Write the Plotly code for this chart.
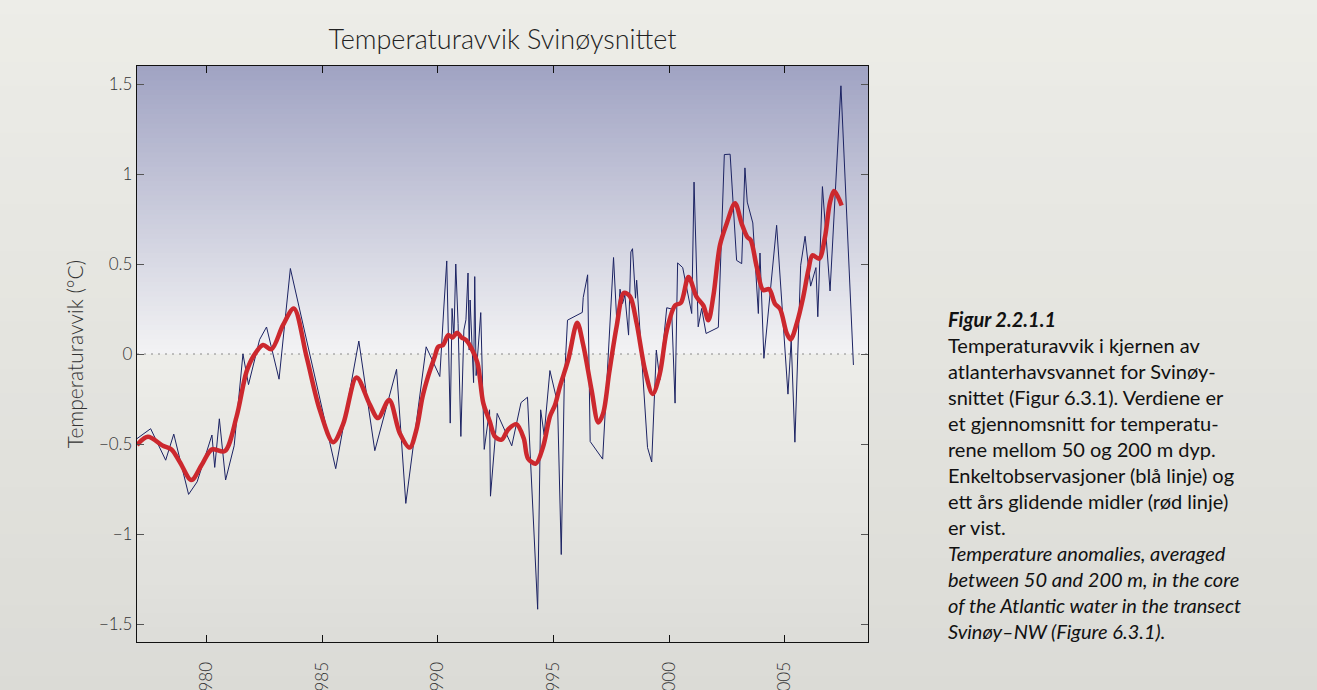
import plotly.graph_objects as go

# ---------------- data ----------------
blue_year = [1977.00, 1977.59, 1978.24, 1978.59, 1979.23, 1979.60, 1980.24, 1980.36, 1980.56, 1980.83,
             1981.20, 1981.58, 1981.82, 1982.30, 1982.60, 1983.14, 1983.63, 1985.59, 1986.59, 1987.28,
             1988.22, 1988.62, 1989.50, 1990.09, 1990.26, 1990.39, 1990.54, 1990.62, 1990.70, 1990.78,
             1990.88, 1991.00, 1991.13, 1991.22, 1991.31, 1991.36, 1991.40, 1991.55, 1991.60, 1991.66,
             1991.86, 1992.01, 1992.24, 1992.28, 1992.57, 1992.90, 1993.20, 1993.60, 1993.88, 1994.32,
             1994.45, 1994.60, 1994.85, 1995.18, 1995.34, 1995.47, 1995.61, 1996.25, 1996.29, 1996.48,
             1996.59, 1997.13, 1997.60, 1997.76, 1997.88, 1997.99, 1998.09, 1998.25, 1998.35, 1998.42,
             1998.55, 1998.60, 1999.07, 1999.25, 1999.45, 1999.60, 1999.90, 2000.11, 2000.26, 2000.37,
             2000.59, 2000.98, 2001.08, 2001.26, 2001.41, 2001.60, 2002.13, 2002.39, 2002.64, 2002.92,
             2003.14, 2003.28, 2003.38, 2003.62, 2003.86, 2003.93, 2004.10, 2004.65, 2005.14, 2005.28,
             2005.44, 2005.69, 2005.88, 2006.12, 2006.35, 2006.43, 2006.63, 2006.96, 2007.43, 2007.97]
blue_temp = [-0.47, -0.415, -0.59, -0.445, -0.78, -0.71, -0.45, -0.63, -0.36, -0.70,
             -0.51, 0.00, -0.17, 0.08, 0.15, -0.14, 0.475, -0.637, 0.072, -0.537,
             -0.085, -0.83, 0.04, -0.125, 0.25, 0.517, -0.384, 0.253, 0.096, 0.50,
             0.17, -0.458, 0.133, 0.19, 0.45, 0.022, 0.30, -0.159, 0.43, -0.12,
             0.23, -0.53, -0.31, -0.79, -0.33, -0.42, -0.51, -0.27, -0.24, -1.418,
             -0.31, -0.449, -0.092, -0.273, -1.114, -0.163, 0.188, 0.231, 0.314, 0.44,
             -0.486, -0.584, 0.536, 0.13, 0.36, 0.28, 0.327, 0.105, 0.567, 0.585,
             0.31, 0.41, -0.52, -0.60, 0.022, -0.144, 0.257, 0.25, -0.273, 0.506,
             0.48, 0.225, 0.955, 0.151, 0.253, 0.114, 0.148, 1.108, 1.11, 0.52,
             0.502, 1.034, 0.844, 0.728, 0.225, 0.561, -0.024, 0.715, -0.223, 0.078,
             -0.49, 0.493, 0.654, 0.377, 0.48, 0.207, 0.93, 0.35, 1.49, -0.061]

red_year = [1977.00, 1977.47, 1978.12, 1978.49, 1978.85, 1979.35, 1979.78, 1980.24, 1980.79, 1981.30,
            1981.73, 1982.02, 1982.45, 1982.81, 1983.31, 1983.78, 1984.33, 1984.90, 1985.48, 1985.91,
            1986.49, 1987.06, 1987.42, 1987.90, 1988.36, 1988.79, 1989.08, 1989.34, 1989.58, 1989.87,
            1990.02, 1990.23, 1990.45, 1990.64, 1990.84, 1991.03, 1991.22, 1991.46, 1991.72, 1991.97,
            1992.25, 1992.47, 1992.76, 1993.04, 1993.40, 1993.72, 1993.90, 1994.24, 1994.56, 1994.85,
            1995.07, 1995.28, 1995.64, 1996.03, 1996.29, 1996.65, 1996.94, 1997.15, 1997.41, 1997.73,
            1998.05, 1998.31, 1998.60, 1998.96, 1999.29, 1999.60, 1999.90, 2000.26, 2000.51, 2000.84,
            2001.19, 2001.48, 2001.70, 2001.92, 2002.20, 2002.49, 2002.85, 2003.14, 2003.38, 2003.53,
            2003.79, 2004.07, 2004.33, 2004.57, 2004.80, 2005.09, 2005.26, 2005.52, 2005.80, 2006.02,
            2006.20, 2006.49, 2006.74, 2006.96, 2007.13, 2007.31, 2007.46]
red_temp = [-0.505, -0.46, -0.51, -0.53, -0.60, -0.70, -0.62, -0.53, -0.54, -0.35,
            -0.10, -0.015, 0.05, 0.026, 0.16, 0.253, -0.015, -0.31, -0.49, -0.39,
            -0.13, -0.28, -0.356, -0.255, -0.44, -0.52, -0.42, -0.24, -0.126, -0.015,
            0.04, 0.05, 0.105, 0.092, 0.118, 0.092, 0.078, 0.031, -0.05, -0.273,
            -0.375, -0.458, -0.476, -0.42, -0.39, -0.47, -0.58, -0.609, -0.513, -0.347,
            -0.283, -0.181, -0.033, 0.173, 0.05, -0.20, -0.38, -0.33, -0.107, 0.151,
            0.34, 0.32, 0.17, -0.089, -0.222, -0.11, 0.13, 0.27, 0.284, 0.428,
            0.317, 0.27, 0.188, 0.327, 0.604, 0.724, 0.838, 0.724, 0.65, 0.632,
            0.484, 0.355, 0.36, 0.281, 0.25, 0.114, 0.081, 0.17, 0.317, 0.465,
            0.548, 0.53, 0.65, 0.844, 0.905, 0.871, 0.825]

x_tick_vals = [1980, 1985, 1990, 1995, 2000, 2005]
x_tick_text = ["1980", "1985", "1990", "1995", "2000", "2005"]
y_tick_vals = [1.5, 1, 0.5, 0, -0.5, -1, -1.5]
y_tick_text = ["1.5", "1", "0.5", "0", "\u22120.5", "\u22121", "\u22121.5"]

title_text = "Temperaturavvik Svinøysnittet"
y_title = "Temperaturavvik (°C)"
caption_lines = [
    "<b><i>Figur 2.2.1.1</i></b>",
    "Temperaturavvik i kjernen av",
    "atlanterhavsvannet for Svinøy-",
    "snittet (Figur 6.3.1). Verdiene er",
    "et gjennomsnitt for temperatu-",
    "rene mellom 50 og 200 m dyp.",
    "Enkeltobservasjoner (blå linje) og",
    "ett års glidende midler (rød linje)",
    "er vist.",
    "<i>Temperature anomalies, averaged</i>",
    "<i>between 50 and 200 m, in the core</i>",
    "<i>of the Atlantic water in the transect</i>",
    "<i>Svinøy–NW (Figure 6.3.1).</i>",
]

FONT = "Lato, 'Open Sans', sans-serif"

W, H = 1317, 690
L, R, T, B = 137, 449, 66, 48
PW, PH = W - L - R, H - T - B

# ---------------- figure ----------------
fig = go.Figure()

fig.add_trace(go.Scatter(x=blue_year, y=blue_temp, mode="lines",
                         line=dict(color="#1c2363", width=1), hoverinfo="skip"))
fig.add_trace(go.Scatter(x=red_year, y=red_temp, mode="lines",
                         line=dict(color="#cc282e", width=4.5, shape="spline", smoothing=0.9),
                         hoverinfo="skip"))

shapes = []


def lerp(c1, c2, t):
    return tuple(round(a + (b - a) * t) for a, b in zip(c1, c2))


# page background gradient (paper coords, beyond the plot), overlapping bands
pg_top, pg_bot = (237, 237, 232), (219, 219, 214)
n_pg = 30
y_lo, y_hi = -0.1, 1.13
step = (y_hi - y_lo) / n_pg
for i in range(n_pg):
    a = y_lo + step * i
    c = lerp(pg_bot, pg_top, (i + 0.5) / n_pg)
    shapes.append(dict(type="rect", xref="paper", yref="paper", x0=-0.2, x1=1.7,
                       y0=a, y1=y_hi if i == n_pg - 1 else a + step * 1.6,
                       fillcolor="rgb(%d,%d,%d)" % c, line=dict(width=0), layer="below"))

# plot-area gradient (overlapping bands so no seams)
top_c, zero_hi = (160, 163, 195), (243, 243, 244)
zero_lo, bot_c = (237, 237, 233), (221, 221, 217)
n_dn, n_up = 20, 60
for i in range(n_dn):
    a = 0.5 * i / n_dn
    b = 0.5 * (i + 1) / n_dn
    c = lerp(bot_c, zero_lo, (i + 0.5) / n_dn)
    shapes.append(dict(type="rect", xref="x domain", yref="y domain", x0=0, x1=1,
                       y0=a, y1=min(b + 0.01, 0.5),
                       fillcolor="rgb(%d,%d,%d)" % c, line=dict(width=0), layer="below"))
for i in range(n_up):
    a = 0.5 + 0.5 * i / n_up
    b = 0.5 + 0.5 * (i + 1) / n_up
    c = lerp(zero_hi, top_c, (i + 0.5) / n_up)
    shapes.append(dict(type="rect", xref="x domain", yref="y domain", x0=0, x1=1,
                       y0=a, y1=min(b + 0.01, 1.0),
                       fillcolor="rgb(%d,%d,%d)" % c, line=dict(width=0), layer="below"))

# dotted zero line
shapes.append(dict(type="line", xref="x domain", yref="y", x0=0, x1=1, y0=0, y1=0,
                   line=dict(color="#8a8a8a", width=1, dash="2px,5px"), layer="below"))

fig.update_layout(
    width=W, height=H,
    margin=dict(l=L, r=R, t=T, b=B, autoexpand=False),
    paper_bgcolor="rgb(232,232,227)",
    plot_bgcolor="rgba(0,0,0,0)",
    showlegend=False,
    shapes=shapes,
    font=dict(family=FONT, color="#333333"),
    title=dict(text=title_text, x=0.5, xref="paper", xanchor="center",
               y=1 - 40 / H, yref="container", yanchor="middle",
               font=dict(family=FONT, size=27, color="#222222", weight=300)),
    annotations=[dict(text="<br>".join(caption_lines), xref="paper", yref="paper",
                      x=(946 - L) / PW, y=(H - B - 305) / PH, xanchor="left", yanchor="top",
                      align="left", showarrow=False,
                      font=dict(family=FONT, size=20, color="#111111"))],
)

fig.update_xaxes(range=[1977.0, 2008.6], tickvals=x_tick_vals, ticktext=x_tick_text,
                 tickangle=-90, ticks="inside", ticklen=7, tickcolor="#111111", tickwidth=1,
                 showline=True, linecolor="#111111", linewidth=1.3, mirror="ticks",
                 showgrid=False, zeroline=False, ticklabelstandoff=12, automargin=False,
                 tickfont=dict(family=FONT, size=17, color="#333333", weight=300))
fig.update_yaxes(range=[-1.6, 1.6], tickvals=y_tick_vals, ticktext=y_tick_text,
                 ticks="inside", ticklen=7, tickcolor="#555555", tickwidth=1,
                 showline=True, linecolor="#111111", linewidth=1.3, mirror="ticks",
                 showgrid=False, zeroline=False, automargin=False,
                 tickfont=dict(family=FONT, size=17, color="#333333", weight=300),
                 title=dict(text=y_title, standoff=9,
                            font=dict(family=FONT, size=21, color="#333333", weight=300)))

fig.write_html("out.html", config={"displayModeBar": False},
               post_script="document.body.style.margin='0px';")
